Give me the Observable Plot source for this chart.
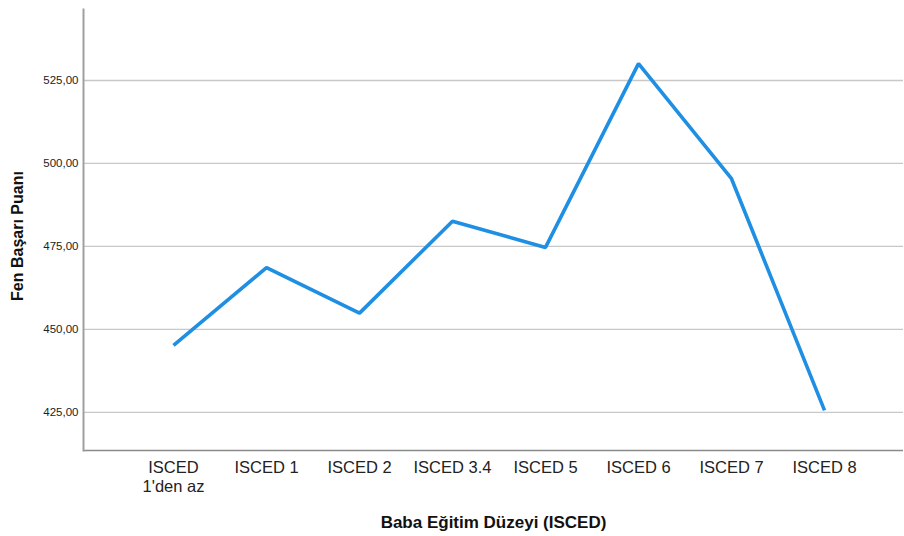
<!DOCTYPE html>
<html>
<head>
<meta charset="utf-8">
<script src="https://cdn.jsdelivr.net/npm/d3@7"></script>
<script src="https://cdn.jsdelivr.net/npm/@observablehq/plot@0.6"></script>
<style>
  html, body { margin: 0; padding: 0; background: #fff; }
</style>
</head>
<body>
<div id="chart"></div>
<script>
const categories = ["ISCED\n1'den az", "ISCED 1", "ISCED 2", "ISCED 3.4", "ISCED 5", "ISCED 6", "ISCED 7", "ISCED 8"];
const scores = [445.2, 468.6, 454.9, 482.6, 474.7, 530.1, 495.4, 425.6];
const yTicks = [425, 450, 475, 500, 525];
const xTitle = "Baba Eğitim Düzeyi (ISCED)";
const yTitle = "Fen Başarı Puanı";

const data = categories.map((c, i) => ({cat: c, val: scores[i]}));
const yDomain = [413.5, 546.4];

const chart = Plot.plot({
  width: 904,
  height: 536,
  marginLeft: 83,
  marginRight: 1,
  marginTop: 9,
  marginBottom: 86,
  style: {fontFamily: "'Liberation Sans', Arial, sans-serif", background: "#fff", color: "#222"},
  x: {type: "point", domain: categories, padding: 0.895, align: 0.53},
  y: {domain: yDomain},
  marks: [
    Plot.gridY(yTicks, {stroke: "#c8c8c8", strokeOpacity: 1, strokeWidth: 1.3}),
    Plot.ruleY([yDomain[0]], {stroke: "#8a8a8a", strokeWidth: 1.6}),
    Plot.frame({anchor: "left", stroke: "#a0a0a0", strokeWidth: 2}),
    Plot.axisY(yTicks, {tickSize: 0, tickPadding: 5, fontSize: 11.5, tickFormat: d => d.toFixed(2).replace(".", ","), label: null, fill: "#222"}),
    Plot.axisX({tickSize: 0, tickPadding: 9, fontSize: 16.5, lineHeight: 1.15, label: null, fill: "#222"}),
    Plot.text([xTitle], {frameAnchor: "bottom", dy: 77, fontSize: 17, fontWeight: "bold", fill: "#111"}),
    Plot.text([yTitle], {frameAnchor: "left", textAnchor: "middle", dx: -66, dy: 6, rotate: -90, fontSize: 16, fontWeight: "bold", fill: "#111"}),
    Plot.line(data, {x: "cat", y: "val", stroke: "#1f8fe3", strokeWidth: 3.6, strokeLinejoin: "miter", strokeLinecap: "butt"})
  ]
});
document.getElementById("chart").appendChild(chart);
</script>
</body>
</html>
